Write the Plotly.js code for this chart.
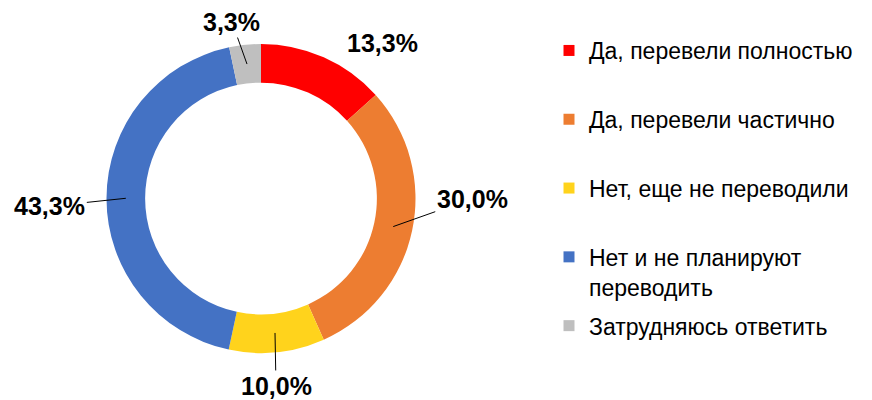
<!DOCTYPE html>
<html>
<head>
<meta charset="utf-8">
<script src="https://cdn.plot.ly/plotly-3.0.1.min.js"></script>
<style>html,body{margin:0;padding:0;background:#fff;}#chart{width:872px;height:400px;}</style>
</head>
<body>
<div id="chart"></div>
<script>
// Data
const categories = [
  "Да, перевели полностью",
  "Да, перевели частично",
  "Нет, еще не переводили",
  "Нет и не планируют<br>переводить",
  "Затрудняюсь ответить"
];
const values = [13.3, 30.0, 10.0, 43.3, 3.3];
const colors = ["#FF0000", "#ED7D31", "#FFD31C", "#4472C4", "#BFBFBF"];

// Layout helpers (positions / styling)
const W = 872, H = 400;
const cx = 261, cy = 198.5, R = 154.5, hole = 0.75;
const labelOffsets = [[67, -32], [79, -28], [1, 53], [-76, 8], [-15, -42]];
const showLeader = [false, true, true, true, true];
const FONT = "'Liberation Sans', Arial, Helvetica, sans-serif";

const total = values.reduce((a, b) => a + b, 0);
let cum = 0;
const rMid = R * (1 + hole) / 2;
const annotations = values.map((v, i) => {
  const mid = (cum + v / 2) / total * 2 * Math.PI;
  cum += v;
  const px = cx + rMid * Math.sin(mid);
  const py = cy - rMid * Math.cos(mid);
  return {
    x: px / W, y: 1 - py / H, xref: "paper", yref: "paper",
    text: "<b>" + v.toFixed(1).replace(".", ",") + "%</b>",
    showarrow: true, arrowhead: 0, arrowwidth: 1, standoff: 0, startstandoff: 0,
    arrowcolor: showLeader[i] ? "#000" : "rgba(0,0,0,0)",
    ax: labelOffsets[i][0], ay: labelOffsets[i][1],
    font: {family: FONT, size: 25, color: "#000"}
  };
});

const pieTrace = {
  type: "pie",
  labels: categories,
  values: values,
  marker: {colors: colors, line: {width: 0}},
  hole: hole,
  sort: false,
  direction: "clockwise",
  rotation: 0,
  textinfo: "none",
  showlegend: false,
  domain: {
    x: [(cx - R) / W, (cx + R) / W],
    y: [1 - (cy + R) / H, 1 - (cy - R) / H]
  }
};

// legend entries (one per category), padded to two lines each
const legendTraces = categories.map((c, i) => ({
  type: "scatter", mode: "markers",
  x: [null], y: [null],
  name: (c.indexOf("<br>") >= 0 || i === categories.length - 1) ? c : c + "<br> ",
  legendgroup: "g" + i,
  marker: {symbol: "square", size: 11, color: colors[i]},
  hoverinfo: "skip"
}));

const layout = {
  width: W, height: H,
  margin: {l: 0, r: 0, t: 0, b: 0, autoexpand: false},
  paper_bgcolor: "#fff",
  plot_bgcolor: "rgba(0,0,0,0)",
  xaxis: {visible: false, range: [0, 1]},
  yaxis: {visible: false, range: [0, 1]},
  showlegend: true,
  legend: {
    x: 549 / W, y: 1 - 29 / H, xanchor: "left", yanchor: "top",
    font: {family: FONT, size: 23, color: "#000"},
    valign: "top", traceorder: "grouped", tracegroupgap: 6,
    itemclick: false, itemdoubleclick: false,
    bgcolor: "rgba(0,0,0,0)"
  },
  annotations: annotations
};

Plotly.newPlot("chart", [pieTrace].concat(legendTraces), layout, {displayModeBar: false, staticPlot: true});
</script>
</body>
</html>
